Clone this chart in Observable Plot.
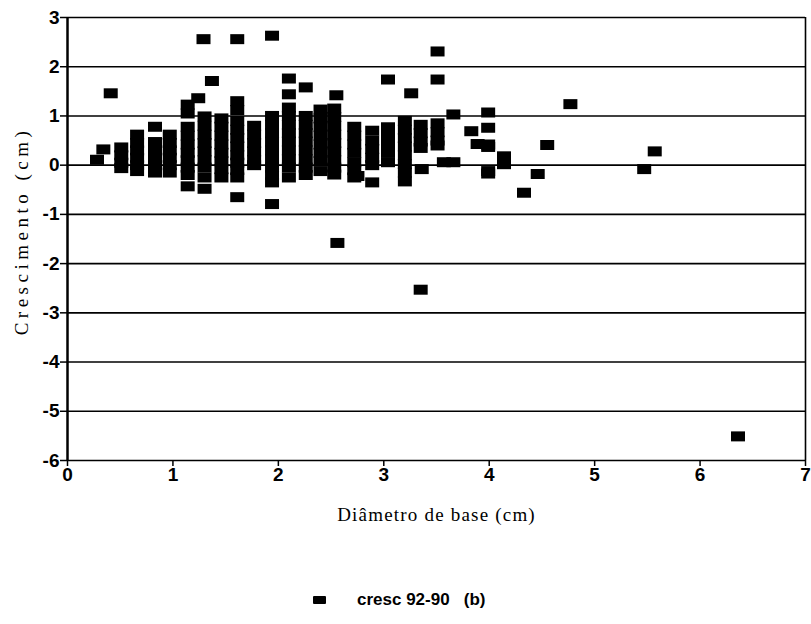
<!DOCTYPE html>
<html>
<head>
<meta charset="utf-8">
<script src="https://cdn.jsdelivr.net/npm/d3@7"></script>
<script src="https://cdn.jsdelivr.net/npm/@observablehq/plot@0.6"></script>
<style>
  body { margin: 0; background: #fff; }
  #legend { position: absolute; left: 0; top: 588px; width: 811px; height: 26px;
    font-family: "Liberation Sans", Arial, sans-serif; font-weight: bold; font-size: 17px; }
  #legend .sw { position: absolute; left: 313px; top: 8px; width: 13px; height: 8px; background: #000; border-radius: 1px; }
  #legend .tx { position: absolute; left: 357px; top: 2px; white-space: pre; }
</style>
</head>
<body>
<div id="chart"></div>
<div id="legend"><span class="sw"></span><span class="tx">cresc 92-90   (b)</span></div>
<script>
// Diameter at base (cm) and growth (cm), series "cresc 92-90 (b)"
const diametro = [
  0.41, 1.29, 1.61, 1.94, 3.51, 1.37, 2.10, 2.10, 2.26, 3.04, 3.51, 3.26, 2.55, 4.77,
  3.99, 3.99, 3.99, 3.99, 3.99, 3.99, 3.66, 3.83, 3.89, 3.66, 3.57, 4.14, 4.14, 4.55,
  5.57, 5.47, 4.46, 4.33, 1.14, 1.30, 1.61, 1.94, 2.56, 3.35, 6.36, 2.89, 2.75, 3.36,
  1.24, 0.83, 0.28, 0.34,
  0.51, 0.51, 0.51, 0.51,
  0.66, 0.66, 0.66, 0.66, 0.66, 0.66,
  0.83, 0.83, 0.83, 0.83, 0.83,
  0.97, 0.97, 0.97, 0.97, 0.97, 0.97,
  1.14, 1.14, 1.14, 1.14, 1.14, 1.14, 1.14, 1.14, 1.14,
  1.30, 1.30, 1.30, 1.30, 1.30, 1.30, 1.30, 1.30,
  1.46, 1.46, 1.46, 1.46, 1.46, 1.46, 1.46, 1.46,
  1.61, 1.61, 1.61, 1.61, 1.61, 1.61, 1.61, 1.61, 1.61, 1.61,
  1.77, 1.77, 1.77, 1.77, 1.77, 1.77,
  1.94, 1.94, 1.94, 1.94, 1.94, 1.94, 1.94, 1.94, 1.94,
  2.10, 2.10, 2.10, 2.10, 2.10, 2.10, 2.10, 2.10, 2.10,
  2.26, 2.26, 2.26, 2.26, 2.26, 2.26, 2.26, 2.26,
  2.40, 2.40, 2.40, 2.40, 2.40, 2.40, 2.40, 2.40,
  2.53, 2.53, 2.53, 2.53, 2.53, 2.53, 2.53, 2.53, 2.53,
  2.72, 2.72, 2.72, 2.72, 2.72, 2.72, 2.72,
  2.89, 2.89, 2.89, 2.89, 2.89,
  3.04, 3.04, 3.04, 3.04, 3.04,
  3.20, 3.20, 3.20, 3.20, 3.20, 3.20, 3.20, 3.20,
  3.35, 3.35, 3.35, 3.35,
  3.51, 3.51, 3.51, 3.51
];
const crescimento = [
  1.46, 2.56, 2.56, 2.63, 2.31, 1.71, 1.76, 1.44, 1.58, 1.74, 1.74, 1.46, 1.42, 1.24,
  1.07, 0.76, 0.42, 0.37, -0.12, -0.17, 1.03, 0.69, 0.43, 0.06, 0.06, 0.18, 0.02, 0.41,
  0.28, -0.08, -0.18, -0.56, -0.43, -0.48, -0.65, -0.79, -1.58, -2.53, -5.51, -0.35, -0.22, -0.08,
  1.36, 0.78, 0.11, 0.32,
  0.36, 0.20, 0.05, -0.06,
  0.62, 0.45, 0.30, 0.15, 0.00, -0.12,
  0.47, 0.30, 0.15, 0.00, -0.15,
  0.62, 0.45, 0.30, 0.15, 0.00, -0.15,
  1.23, 1.05, 0.78, 0.60, 0.42, 0.25, 0.10, -0.05, -0.20,
  0.99, 0.80, 0.62, 0.45, 0.28, 0.10, -0.05, -0.25,
  0.95, 0.78, 0.60, 0.42, 0.25, 0.08, -0.08, -0.25,
  1.30, 1.12, 0.90, 0.72, 0.55, 0.38, 0.20, 0.05, -0.10, -0.25,
  0.80, 0.62, 0.45, 0.28, 0.10, 0.00,
  1.00, 0.82, 0.65, 0.48, 0.30, 0.12, -0.05, -0.20, -0.35,
  1.17, 1.00, 0.82, 0.65, 0.48, 0.30, 0.12, -0.05, -0.25,
  1.00, 0.82, 0.65, 0.48, 0.30, 0.12, -0.05, -0.20,
  1.13, 0.95, 0.78, 0.60, 0.42, 0.25, 0.08, -0.12,
  1.15, 0.98, 0.80, 0.62, 0.45, 0.28, 0.10, -0.05, -0.19,
  0.78, 0.60, 0.42, 0.25, 0.06, -0.10, -0.25,
  0.70, 0.50, 0.33, 0.15, 0.00,
  0.77, 0.60, 0.42, 0.25, 0.06,
  0.90, 0.72, 0.55, 0.38, 0.20, 0.02, -0.15, -0.33,
  0.82, 0.65, 0.48, 0.35,
  0.85, 0.67, 0.50, 0.40
];
const xTicks = [0, 1, 2, 3, 4, 5, 6, 7];
const yTicks = [3, 2, 1, 0, -1, -2, -3, -4, -5, -6];
const xTitle = "Diâmetro de base (cm)";
const yTitle = "Crescimento (cm)";

const points = diametro.map((d, i) => ({x: d, y: crescimento[i]}));

const rectSymbol = {
  draw(context) {
    const w = 14, h = 10;
    context.rect(-w / 2, -h / 2, w, h);
  }
};

const chart = Plot.plot({
  width: 811,
  height: 540,
  marginLeft: 67,
  marginRight: 6,
  marginTop: 17,
  marginBottom: 80,
  style: {fontFamily: "'Liberation Sans', Arial, sans-serif", background: "#fff", color: "#000"},
  x: {domain: [0, 7]},
  y: {domain: [-6, 3]},
  marks: [
    Plot.ruleY(yTicks, {stroke: "#000", strokeWidth: 1.6}),
    Plot.ruleX([7], {stroke: "#000", strokeWidth: 1.6}),
    Plot.ruleX([0], {stroke: "#000", strokeWidth: 2.5}),
    Plot.axisY({ticks: yTicks, tickFormat: d => String(d), tickSize: 7, tickPadding: 1, label: null, strokeWidth: 1.5}),
    Plot.axisX({ticks: xTicks, tickFormat: d => String(d), tickSize: 6, tickPadding: 1, label: null, strokeWidth: 1.5}),
    Plot.dot(points, {x: "x", y: "y", symbol: rectSymbol, fill: "#000", stroke: "none", r: 7}),
    Plot.text([xTitle], {frameAnchor: "bottom", dy: 60, textAnchor: "middle", fontFamily: "'Liberation Serif', 'Times New Roman', serif", fontSize: 19, fill: "#000"}),
    Plot.text([yTitle], {frameAnchor: "left", dx: -46, dy: -8, rotate: -90, textAnchor: "middle", fontFamily: "'Liberation Serif', 'Times New Roman', serif", fontSize: 19, fill: "#000"})
  ]
});
chart.querySelectorAll("g[aria-label$='tick label'] text").forEach(t => {
  t.style.fontWeight = "bold";
  t.style.fontSize = "19px";
});
chart.querySelectorAll("text").forEach(t => {
  if (t.textContent === yTitle) t.style.letterSpacing = "4.5px";
  if (t.textContent === xTitle) t.style.letterSpacing = "1.2px";
});
document.getElementById("chart").appendChild(chart);
</script>
</body>
</html>
